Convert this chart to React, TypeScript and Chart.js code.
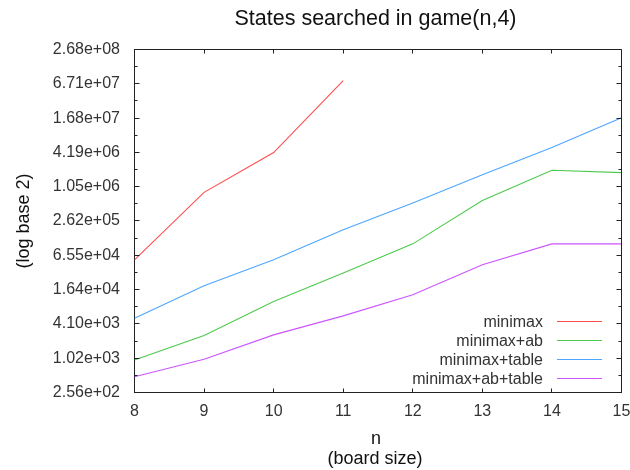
import { useEffect, useRef } from "react";
import { Chart, registerables } from "chart.js";

Chart.register(...registerables);

const chartTitle = "States searched in game(n,4)";
const xTitleLines = ["n", "(board size)"];
const yTitle = "(log base 2)";

const boardSizes = [8, 9, 10, 11, 12, 13, 14, 15];
const minimax = [54700, 834000, 4170000, 76600000];
const minimaxAb = [955, 2560, 10100, 31900, 104000, 602000, 2040000, 1850000];
const minimaxTable = [5150, 19100, 54700, 184000, 543000, 1700000, 5130000, 17000000];
const minimaxAbTable = [484, 982, 2630, 5670, 13300, 44800, 104000, 104000];

const seriesNames = ["minimax", "minimax+ab", "minimax+table", "minimax+ab+table"];
const seriesValues = [minimax, minimaxAb, minimaxTable, minimaxAbTable];
const seriesColors = ["#ff4d4d", "#4ec94e", "#4da6ff", "#cc55ff"];

const yTickValues = [256, 1024, 4096, 16384, 65536, 262144, 1048576, 4194304, 16777216, 67108864, 268435456];

const FONT = "'Liberation Sans', Arial, sans-serif";
const FRAME = "#222222";

function fmtExp(v: number): string {
  return v.toExponential(2).replace(/e([+-])(\d)$/, "e$10$2");
}

const framePlugin = {
  id: "gnuFrame",
  afterDraw(chart: any) {
    const ctx = chart.ctx as CanvasRenderingContext2D;
    const a = chart.chartArea;
    const xs = chart.scales.x;
    const ys = chart.scales.y;
    ctx.save();
    ctx.globalAlpha = 1;
    ctx.globalCompositeOperation = "source-over";
    ctx.setLineDash([]);
    ctx.lineWidth = 1;
    ctx.strokeStyle = FRAME;
    ctx.beginPath();
    // top and right sides of the frame
    ctx.moveTo(a.left, a.top);
    ctx.lineTo(a.right, a.top);
    ctx.lineTo(a.right, a.bottom);
    ctx.stroke();
    // inward tick marks
    ctx.beginPath();
    yTickValues.forEach((v, i) => {
      const py = Math.floor(ys.getPixelForValue(v)) + 0.5;
      ctx.moveTo(a.left, py);
      ctx.lineTo(a.left + 5, py);
      ctx.moveTo(a.right, py);
      ctx.lineTo(a.right - 5, py);
      if (i < yTickValues.length - 1) {
        const pm = Math.floor(ys.getPixelForValue(v * 2)) + 0.5;
        ctx.moveTo(a.left, pm);
        ctx.lineTo(a.left + 3, pm);
        ctx.moveTo(a.right, pm);
        ctx.lineTo(a.right - 3, pm);
      }
    });
    boardSizes.forEach((n) => {
      const px = Math.floor(xs.getPixelForValue(n)) + 0.5;
      ctx.moveTo(px, a.bottom);
      ctx.lineTo(px, a.bottom - 4);
      ctx.moveTo(px, a.top);
      ctx.lineTo(px, a.top + 4);
    });
    ctx.stroke();

    // legend
    ctx.font = `16px ${FONT}`;
    ctx.textAlign = "right";
    ctx.textBaseline = "alphabetic";
    seriesNames.forEach((name, i) => {
      const ly = 321.5 + i * 19;
      ctx.fillStyle = "#333333";
      ctx.fillText(name, 543, ly + 5.5);
      ctx.strokeStyle = seriesColors[i];
      ctx.beginPath();
      ctx.moveTo(557, ly);
      ctx.lineTo(602, ly);
      ctx.stroke();
    });

    // titles
    ctx.fillStyle = "#111111";
    ctx.textAlign = "center";
    ctx.font = `21.5px ${FONT}`;
    ctx.fillText(chartTitle, 375.5, 25);
    ctx.font = `18px ${FONT}`;
    ctx.fillText(xTitleLines[0], 376, 444);
    ctx.fillText(xTitleLines[1], 375, 464);
    ctx.translate(29, (a.top + a.bottom) / 2);
    ctx.rotate(-Math.PI / 2);
    ctx.fillText(yTitle, 0, 0);
    ctx.restore();
  },
};

export default function App() {
  const ref = useRef<HTMLCanvasElement | null>(null);
  useEffect(() => {
    document.body.style.margin = "0";
    if (!ref.current) return;
    const chart = new Chart(ref.current, {
      type: "line",
      data: {
        datasets: seriesValues.map((vals, i) => ({
          label: seriesNames[i],
          data: vals.map((v, j) => ({ x: boardSizes[j], y: v })),
          borderColor: seriesColors[i],
          backgroundColor: seriesColors[i],
          borderWidth: 1.1,
          pointRadius: 0,
          tension: 0,
          fill: false,
        })),
      },
      options: {
        responsive: false,
        animation: false,
        layout: { padding: { top: 49.5, right: 8.5, left: 0, bottom: 0 } },
        plugins: { legend: { display: false }, title: { display: false }, tooltip: { enabled: false } },
        scales: {
          x: {
            type: "linear",
            min: 8,
            max: 15,
            grid: { display: false, drawTicks: false },
            border: { display: true, color: FRAME, width: 1 },
            ticks: { stepSize: 1, padding: 9, color: "#333", font: { family: FONT, size: 16 } },
            afterFit: (s: any) => {
              s.height = 77.5;
              s.paddingLeft = 0;
              s.paddingRight = 0;
            },
          },
          y: {
            type: "logarithmic",
            min: 256,
            max: 268435456,
            grid: { display: false, drawTicks: false },
            border: { display: true, color: FRAME, width: 1 },
            afterBuildTicks: (s: any) => {
              s.ticks = yTickValues.map((v) => ({ value: v }));
            },
            ticks: {
              padding: 14.5,
              color: "#333",
              font: { family: FONT, size: 16 },
              callback: (v: any) => fmtExp(Number(v)),
            },
            afterFit: (s: any) => {
              s.width = 134.5;
              s.paddingTop = 0;
              s.paddingBottom = 0;
            },
          },
        },
      },
      plugins: [framePlugin],
    });
    return () => chart.destroy();
  }, []);
  return <canvas ref={ref} width={630} height={470} style={{ display: "block" }} />;
}
